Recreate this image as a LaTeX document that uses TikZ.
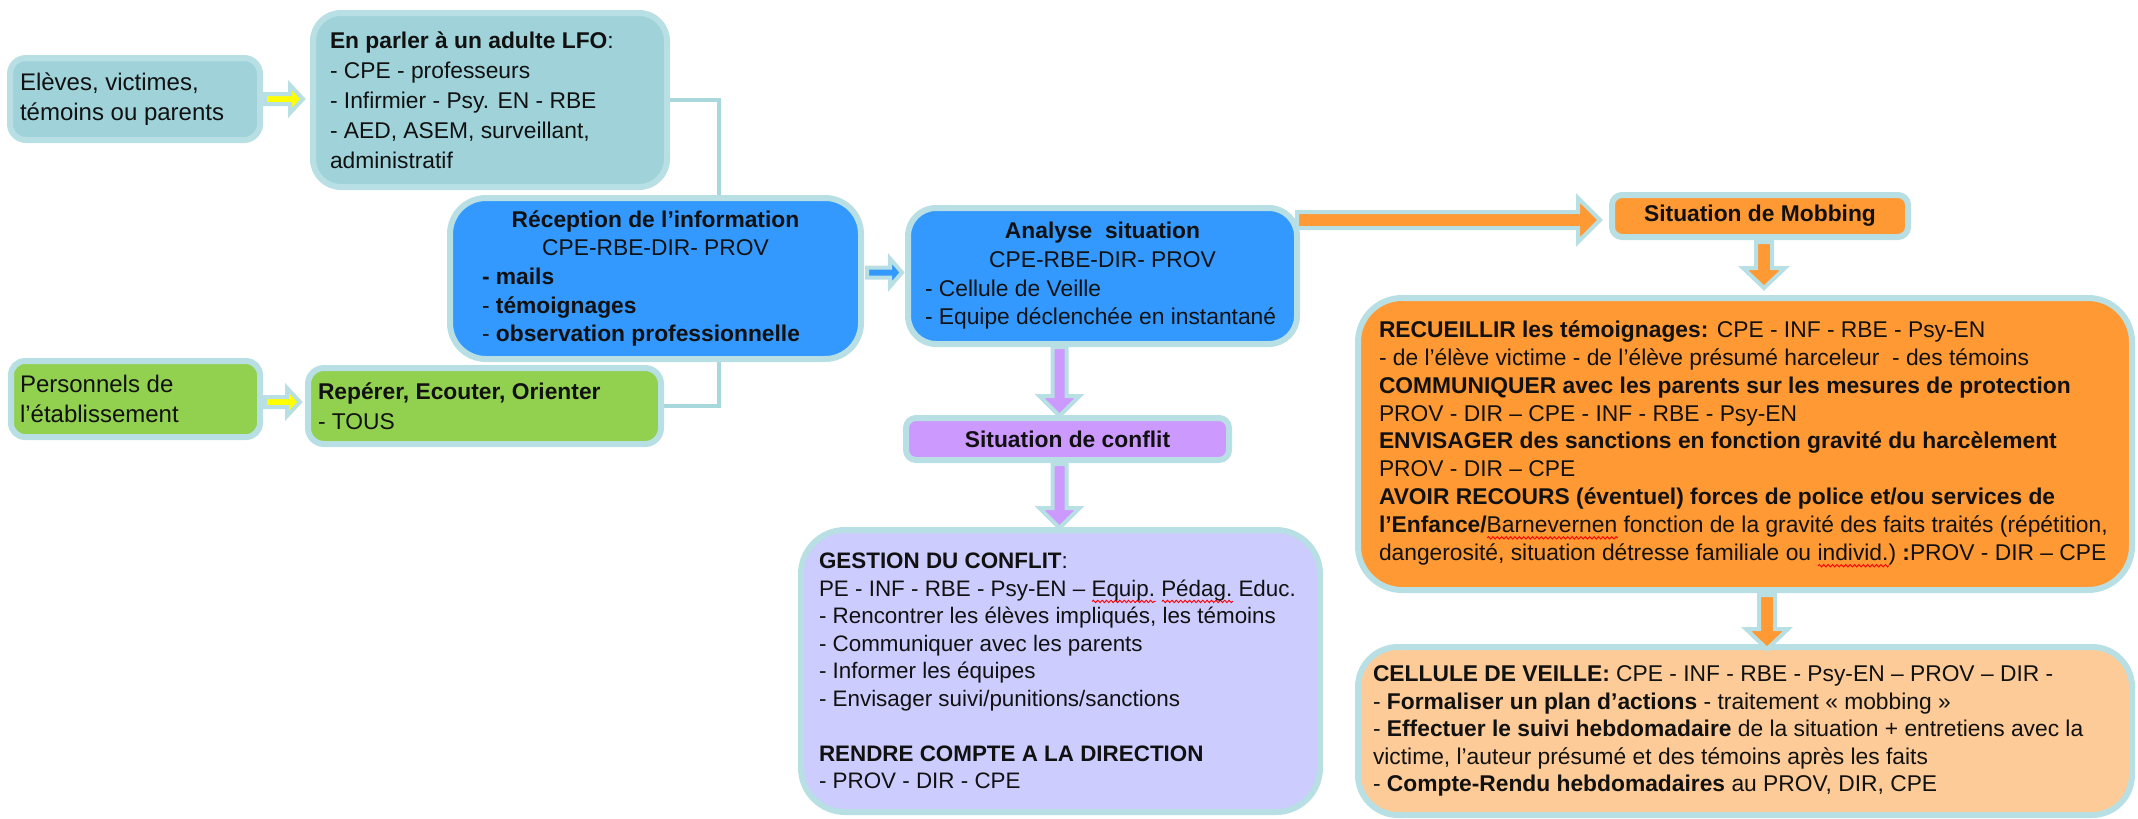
\documentclass[tikz,border=0pt]{standalone}
\usepackage{fontspec}
\setmainfont{Liberation Sans}
\usetikzlibrary{calc,decorations.pathmorphing}
\pgfdeclarelayer{background}
\pgfsetlayers{background,main}
\definecolor{teal1}{HTML}{9FD3D9}
\definecolor{bord}{HTML}{B8DFE3}
\definecolor{blue1}{HTML}{3399FF}
\definecolor{green1}{HTML}{92D050}
\definecolor{orange1}{HTML}{FF9933}
\definecolor{peach}{HTML}{FDCB98}
\definecolor{purple1}{HTML}{CC99FF}
\definecolor{lav}{HTML}{CCCCFF}
\definecolor{yel}{HTML}{FFFF00}
\definecolor{linec}{HTML}{A9D8DC}
\definecolor{ink}{HTML}{111111}
\newcommand\fsn{\fontsize{11.4}{13.75}\selectfont}
\newcommand\fsL{\fontsize{12}{15}\selectfont}
\newsavebox\spbox
\newdimen\spwd
\newcommand\spell[1]{\sbox\spbox{#1}\spwd=\wd\spbox\rlap{\tikz[baseline=0pt,x=1pt,y=1pt]\draw[sharp corners,red,line width=0.45pt,decorate,decoration={snake,amplitude=0.6pt,segment length=2.2pt}] (0pt,-2.6pt) -- (\the\spwd,-2.6pt);}\usebox\spbox}
\newcommand\barrow[6]{%
  \coordinate (bas) at #2;
  \coordinate (bae) at #3;
  \coordinate (bac) at ($(bae)!#6!(bas)$);
  \draw[arrowline, fill=#1]
    ($(bas)!#4!90:(bae)$) -- ($(bac)!#4!90:(bae)$) -- ($(bac)!#5!90:(bae)$) --
    (bae) -- ($(bac)!#5!-90:(bae)$) -- ($(bac)!#4!-90:(bae)$) --
    ($(bas)!#4!-90:(bae)$) -- cycle;
}
\tikzset{
  box/.style={draw=bord, line width=3pt, inner sep=0pt, outer sep=0pt, text=ink, font=\fsn},
  arrowline/.style={draw=bord, line width=2pt},
  connector/.style={draw=linec, line width=2pt},
}
\begin{document}
\begin{tikzpicture}[x=0.5pt,y=-0.5pt]
\useasboundingbox (0,0) rectangle (2138,819);

% boxes
\node[box, fill=teal1, rounded corners=8pt, minimum width=125pt, minimum height=41pt] (eleves) at (135,99)
  {\begin{minipage}{115pt}\fsL Elèves, victimes,\\ témoins ou parents\end{minipage}};

\node[box, fill=teal1, rounded corners=14pt, minimum width=177pt, minimum height=87pt] (enparler) at (490,100)
  {\begin{minipage}{160pt}\fontsize{11.4}{15}\selectfont\raggedright\textbf{En parler à un adulte LFO}:\\
   - CPE - professeurs\\
   - Infirmier - Psy. EN - RBE\\
   - AED, ASEM, surveillant,\\
   administratif\end{minipage}};

\node[box, fill=blue1, rounded corners=18pt, minimum width=205.5pt, minimum height=80.5pt] (reception) at (655.5,278.5)
  {\begin{minipage}{173.5pt}\fontsize{11.4}{14.3}\selectfont\centering\textbf{Réception de l’information}\\
   CPE-RBE-DIR- PROV\par
   \raggedright\textbf{- mails}\\
   - \textbf{témoignages}\\
   - \textbf{observation professionnelle}\end{minipage}};

\node[box, fill=blue1, rounded corners=14pt, minimum width=194.5pt, minimum height=68pt] (analyse) at (1102.5,276)
  {\begin{minipage}{177.5pt}\fontsize{11.4}{14.3}\selectfont\centering\textbf{Analyse\ \ situation}\\
   CPE-RBE-DIR- PROV\par
   \raggedright - Cellule de Veille\\
   - Equipe déclenchée en instantané\end{minipage}};

\node[box, fill=orange1, rounded corners=5pt, minimum width=148pt, minimum height=21pt] (mobbing) at (1760,216)
  {\textbf{Situation de Mobbing}};

\node[box, fill=orange1, rounded corners=22pt, minimum width=387pt, minimum height=146pt] (orange) at (1745,444)
  {\begin{minipage}{366pt}\fontsize{11.4}{13.95}\selectfont\raggedright
   \textbf{RECUEILLIR les témoignages:} CPE - INF - RBE - Psy-EN\\
   - de l’élève victime - de l’élève présumé harceleur\ \ - des témoins\\
   \textbf{COMMUNIQUER avec les parents sur les mesures de protection}\\
   PROV - DIR – CPE - INF - RBE - Psy-EN\\
   \textbf{ENVISAGER des sanctions en fonction gravité du harcèlement}\\
   PROV - DIR – CPE\\
   \textbf{AVOIR RECOURS (éventuel) forces de police et/ou services de}\\
   \textbf{l’Enfance/}\spell{Barnevernen} fonction de la gravité des faits traités (répétition,\\
   dangerosité, situation détresse familiale ou \spell{individ.}) \textbf{:}PROV - DIR – CPE\end{minipage}};

\node[box, fill=peach, rounded corners=20pt, minimum width=387pt, minimum height=84pt] (lightorange) at (1745,731)
  {\begin{minipage}{372pt}\raggedright
   \textbf{CELLULE DE VEILLE:} CPE - INF - RBE - Psy-EN – PROV – DIR -\\
   - \textbf{Formaliser un plan d’actions} - traitement « mobbing »\\
   - \textbf{Effectuer le suivi hebdomadaire} de la situation + entretiens avec la\\
   victime, l’auteur présumé et des témoins après les faits\\
   - \textbf{Compte-Rendu hebdomadaires} au PROV, DIR, CPE\end{minipage}};

\node[box, fill=purple1, rounded corners=5pt, minimum width=161.5pt, minimum height=21pt] (conflit) at (1067.5,439)
  {\textbf{Situation de conflit}};

\node[box, fill=lav, rounded corners=22pt, minimum width=259.5pt, minimum height=141pt] (gestion) at (1060.5,671)
  {\begin{minipage}{241.5pt}\fontsize{11.2}{13.75}\selectfont\raggedright
   \textbf{GESTION DU CONFLIT}:\\
   PE - INF - RBE - Psy-EN – \spell{Equip.} \spell{Pédag.} Educ.\\
   - Rencontrer les élèves impliqués, les témoins\\
   - Communiquer avec les parents\\
   - Informer les équipes\\
   - Envisager suivi/punitions/sanctions\\[13.75pt]
   \textbf{RENDRE COMPTE A LA DIRECTION}\\
   - PROV - DIR - CPE\end{minipage}};

\node[box, fill=green1, rounded corners=7pt, minimum width=124.5pt, minimum height=38pt] (personnels) at (135.5,399)
  {\begin{minipage}{115.5pt}\fsL Personnels de\\ l’établissement\end{minipage}};

\node[box, fill=green1, rounded corners=8pt, minimum width=176.5pt, minimum height=38pt] (reperer) at (484.5,406)
  {\begin{minipage}{166.5pt}\fontsize{11.4}{15}\selectfont\raggedright\textbf{Repérer, Ecouter, Orienter}\\ - TOUS\end{minipage}};

% connector behind boxes
\begin{pgfonlayer}{background}
\draw[connector] (enparler.east) -- ++(52,0) |- (reperer.east);
\end{pgfonlayer}

% block arrows
\barrow{yel}{($(eleves.east)+(5,0)$)}{($(enparler.west |- eleves.east)+(-10,0)$)}{2.5pt}{7pt}{6.5pt}
\barrow{yel}{($(personnels.east)+(5,3)$)}{($(reperer.west |- personnels.east)+(-8,3)$)}{2.5pt}{7pt}{6.5pt}
\barrow{blue1}{($(reception.east)+(6,-6)$)}{($(analyse.west |- reception.east)+(-6,-6)$)}{2.5pt}{7pt}{6pt}
\barrow{orange1}{($(analyse.east |- mobbing.west)+(0,4)$)}{($(mobbing.west)+(-12,4)$)}{4pt}{11pt}{11pt}
\barrow{orange1}{($(mobbing.south)+(4,5)$)}{($(mobbing.south |- orange.north)+(4,-10)$)}{4pt}{10.5pt}{10pt}
\barrow{orange1}{($(orange.south)+(22,5)$)}{($(lightorange.north)+(22,2)$)}{4pt}{10.5pt}{10pt}
\barrow{purple1}{($(conflit.north |- analyse.south)+(-8,3)$)}{($(conflit.north)+(-8,-2)$)}{3.5pt}{10pt}{10pt}
\barrow{purple1}{($(conflit.south)+(-8,4)$)}{($(conflit.south |- gestion.north)+(-8,-2)$)}{3.5pt}{10pt}{10pt}
\end{tikzpicture}
\end{document}
